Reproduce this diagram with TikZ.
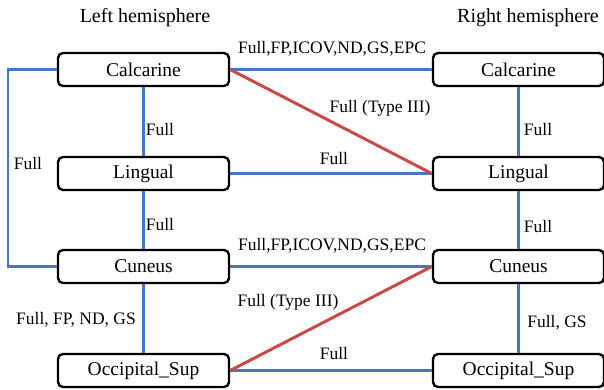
\documentclass[tikz,border=0pt]{standalone}
\usepackage{fontspec}
\setmainfont{Liberation Serif}
\definecolor{lblue}{RGB}{70,117,196}
\definecolor{lred}{RGB}{200,75,72}
\begin{document}
\begin{tikzpicture}[x=1pt,y=-1pt,
  region/.style={draw=black,line width=2.4pt,rounded corners=5pt,minimum width=171pt,minimum height=33pt,inner sep=0pt,font=\fontsize{19.5}{21}\selectfont},
  bl/.style={draw=lblue,line width=2.8pt},
  rd/.style={draw=lred,line width=3pt},
  lab/.style={font=\fontsize{17.5}{19}\selectfont,inner sep=1pt},
  ttl/.style={font=\fontsize{20}{22}\selectfont}]
\useasboundingbox (0,0) rectangle (604,389);
\node[ttl] (tl) at (145,18) {Left hemisphere};
\node[ttl] (tr) at (528,18) {Right hemisphere};
\node[region] (lc) at (143.5,69.5) {Calcarine};
\node[region] (ll) at (143.5,173.5) {Lingual};
\node[region] (lu) at (143.5,266.5) {Cuneus};
\node[region] (lo) at (143.5,370.5) {Occipital\_Sup};
\node[region] (rc) at (518.5,69.5) {Calcarine};
\node[region] (rl) at (518.5,173.5) {Lingual};
\node[region] (ru) at (518.5,266.5) {Cuneus};
\node[region] (ro) at (518.5,370.5) {Occipital\_Sup};
\coordinate (k1) at (8,69.5);
\coordinate (k2) at (8,266.5);
\draw[bl] (lc.west) -- (k1) -- (k2) -- (lu.west);
\draw[bl] (lc.south) -- (ll.north);
\draw[bl] (ll.south) -- (lu.north);
\draw[bl] (lu.south) -- (lo.north);
\draw[bl] (rc.south) -- (rl.north);
\draw[bl] (rl.south) -- (ru.north);
\draw[bl] (ru.south) -- (ro.north);
\draw[bl] (lc.east) -- (rc.west);
\draw[bl] (ll.east) -- (rl.west);
\draw[bl] (lu.east) -- (ru.west);
\draw[bl] (lo.east) -- (ro.west);
\draw[rd] (lc.east) -- (rl.west);
\draw[rd] (lo.east) -- (ru.west);
\node[lab] (a1) at (332,49) {Full,FP,ICOV,ND,GS,EPC};
\node[lab] (a2) at (380,108) {Full (Type III)};
\node[lab] (a3) at (334,159) {Full};
\node[lab] (a4) at (332,246) {Full,FP,ICOV,ND,GS,EPC};
\node[lab] (a5) at (288,302) {Full (Type III)};
\node[lab] (a6) at (334,354) {Full};
\node[lab] (b1) at (160,130) {Full};
\node[lab] (b2) at (160,225) {Full};
\node[lab] (b3) at (76,320) {Full, FP, ND, GS};
\node[lab] (b4) at (28,164) {Full};
\node[lab] (c1) at (538,130) {Full};
\node[lab] (c2) at (538,227) {Full};
\node[lab] (c3) at (557,323) {Full, GS};
\end{tikzpicture}
\end{document}
